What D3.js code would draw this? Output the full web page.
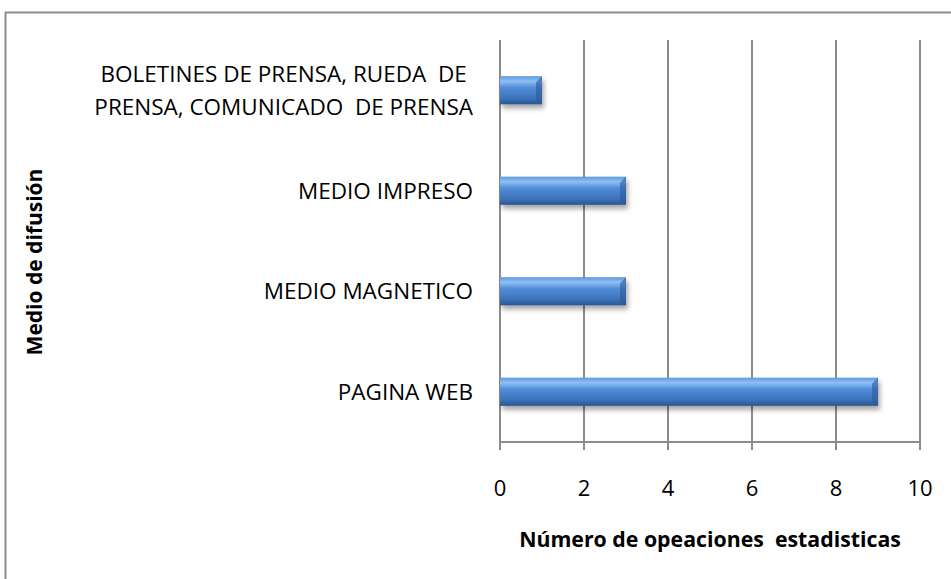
<!DOCTYPE html>
<html>
<head>
<meta charset="utf-8">
<script src="https://cdn.jsdelivr.net/npm/d3@7"></script>
<style>
  body { margin: 0; background: #fff; }
  svg { font-family: "Open Sans", "Lato", sans-serif; }
</style>
</head>
<body>
<div id="chart"></div>
<script>
const categories = [
    ["BOLETINES DE PRENSA, RUEDA  DE", "PRENSA, COMUNICADO  DE PRENSA"],
    ["MEDIO IMPRESO"],
    ["MEDIO MAGNETICO"],
    ["PAGINA WEB"]
];
const values = [1, 3, 3, 9];
const xTicks = [0, 2, 4, 6, 8, 10];

const width = 951;
const height = 579;
const margin = { top: 40, right: 31, bottom: 137, left: 500 };

const svg = d3.select("#chart")
    .append("svg")
    .attr("width", width)
    .attr("height", height);

// outer frame
svg.append("rect")
    .attr("x", 5.5).attr("y", 12.5)
    .attr("width", 960).attr("height", 600)
    .attr("fill", "none")
    .attr("stroke", "#8c8c8c")
    .attr("stroke-width", 2);

const defs = svg.append("defs");
const grad = defs.append("linearGradient")
    .attr("id", "barGrad")
    .attr("x1", 0).attr("y1", 0).attr("x2", 0).attr("y2", 1);
grad.append("stop").attr("offset", "0%").attr("stop-color", "#5c98de");
grad.append("stop").attr("offset", "18%").attr("stop-color", "#8fc0f4");
grad.append("stop").attr("offset", "40%").attr("stop-color", "#528ed9");
grad.append("stop").attr("offset", "80%").attr("stop-color", "#3b71b8");
grad.append("stop").attr("offset", "100%").attr("stop-color", "#2a5590");

const shadow = defs.append("filter")
    .attr("id", "shadow")
    .attr("x", "-10%").attr("y", "-30%").attr("width", "130%").attr("height", "200%");
shadow.append("feDropShadow")
    .attr("dx", 2).attr("dy", 4).attr("stdDeviation", 2.5)
    .attr("flood-color", "#000").attr("flood-opacity", 0.35);

const idx = d3.range(categories.length);

const x = d3.scaleLinear()
    .domain([0, 10])
    .range([margin.left, width - margin.right]);

const y = d3.scaleBand()
    .domain(idx)
    .range([margin.top, height - margin.bottom])
    .paddingInner(0.72)
    .paddingOuter(0.36);

// grid lines
svg.append("g")
    .selectAll("line")
    .data(xTicks)
    .join("line")
    .attr("x1", d => x(d)).attr("x2", d => x(d))
    .attr("y1", margin.top).attr("y2", height - margin.bottom + 8)
    .attr("stroke", "#8c8c8c")
    .attr("stroke-width", 2);

// x axis line
svg.append("line")
    .attr("x1", x(0)).attr("x2", x(10))
    .attr("y1", height - margin.bottom).attr("y2", height - margin.bottom)
    .attr("stroke", "#8c8c8c")
    .attr("stroke-width", 2);

// bars
svg.append("g")
    .selectAll("rect")
    .data(idx)
    .join("rect")
    .attr("x", x(0))
    .attr("y", i => y(i))
    .attr("width", i => x(values[i]) - x(0))
    .attr("height", y.bandwidth())
    .attr("fill", "url(#barGrad)")
    .attr("filter", "url(#shadow)");

// bevelled ends
svg.append("g")
    .selectAll("path")
    .data(idx)
    .join("path")
    .attr("d", i => {
        const x1 = x(values[i]), y0 = y(i), h = y.bandwidth();
        return `M${x1},${y0} L${x1 - 6},${y0 + 6} L${x1 - 6},${y0 + h - 4} L${x1},${y0 + h} Z`;
    })
    .attr("fill", "#2c5a96")
    .attr("opacity", 0.6);

// x tick labels
svg.append("g")
    .selectAll("text")
    .data(xTicks)
    .join("text")
    .attr("x", d => x(d))
    .attr("y", 496)
    .attr("text-anchor", "middle")
    .style("font-size", "22px")
    .style("fill", "#000")
    .text(d => d);

// category labels
const labelRight = 473;
idx.forEach(i => {
    const lines = categories[i];
    const cy = y(i) + y.bandwidth() / 2;
    const lineH = 33;
    const g = svg.append("g");
    const t = g.selectAll("text")
        .data(lines)
        .join("text")
        .attr("y", (_, k) => cy + (k - (lines.length - 1) / 2) * lineH + 8)
        .style("font-size", "22.5px")
        .style("fill", "#000")
        .style("white-space", "pre")
        .text(d => d);
    const maxW = d3.max(t.nodes(), n => n.getComputedTextLength());
    t.attr("x", labelRight - maxW / 2).attr("text-anchor", "middle");
});

// axis titles
svg.append("text")
    .attr("x", 710)
    .attr("y", 547)
    .attr("text-anchor", "middle")
    .style("font-size", "21.3px")
    .style("font-weight", "bold")
    .style("white-space", "pre")
    .text("Número de opeaciones  estadisticas");

svg.append("text")
    .attr("transform", "translate(42,262) rotate(-90)")
    .attr("text-anchor", "middle")
    .style("font-size", "21px")
    .style("font-weight", "bold")
    .text("Medio de difusión");
</script>
</body>
</html>
